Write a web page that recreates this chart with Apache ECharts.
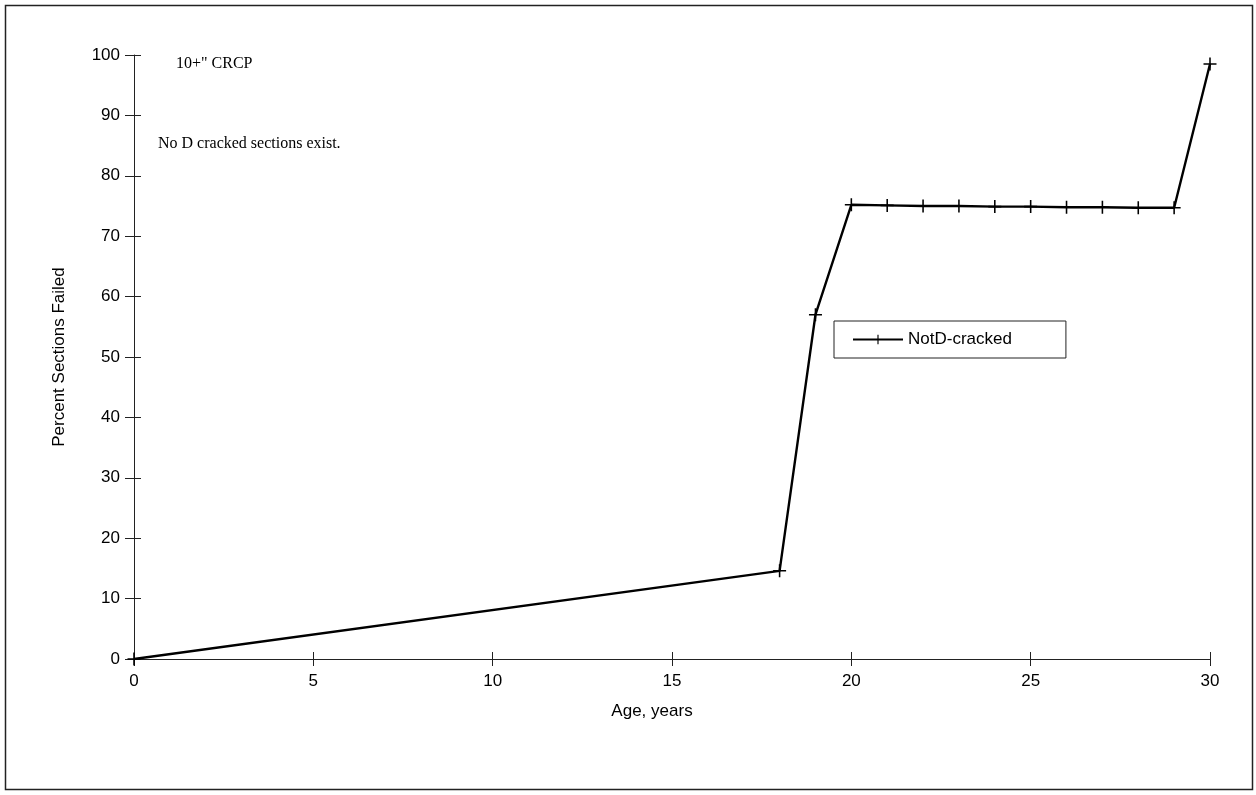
<!DOCTYPE html>
<html>
<head>
<meta charset="utf-8">
<script src="https://cdn.jsdelivr.net/npm/echarts@6/dist/echarts.min.js"></script>
<style>
  html, body { margin: 0; padding: 0; background: #fff; }
  #chart { width: 1256px; height: 795px; }
</style>
</head>
<body>
<div id="chart"></div>
<script>
// age (years) and percent of sections failed
const ages = [0, 18, 19, 20, 21, 22, 23, 24, 25, 26, 27, 28, 29, 30]
const notDCracked = [0, 14.6, 57, 75.2, 75.1, 75, 75, 74.9, 74.9, 74.8, 74.8, 74.7, 74.7, 98.5]
const yTicks = [0, 10, 20, 30, 40, 50, 60, 70, 80, 90, 100]
const xTicks = [0, 5, 10, 15, 20, 25, 30]

const plusSymbol = 'path://M4.4,0H5.6V4.4H10V5.6H5.6V10H4.4V5.6H0V4.4H4.4Z'
const labelFont = 'Liberation Sans, Arial, sans-serif'
const serifFont = 'Liberation Serif, Times New Roman, serif'

const chart = echarts.init(document.getElementById('chart'))

const tickAxis = (extra) => Object.assign({
  type: 'value',
  axisLine: { show: false },
  axisTick: { show: true, inside: true, length: 7, lineStyle: { color: '#222' } },
  axisLabel: { show: false },
  splitLine: { show: false }
}, extra)

chart.setOption({
  animation: false,
  backgroundColor: '#fff',
  grid: { left: 134, right: 46, top: 55, bottom: 136, containLabel: false },
  graphic: [
    {
      type: 'rect',
      shape: { x: 5.5, y: 5.5, width: 1247, height: 784 },
      style: { fill: 'none', stroke: '#222', lineWidth: 1.5 },
      silent: true
    },
    {
      type: 'text', left: 176, top: 56,
      style: { text: '10+" CRCP', font: '16px ' + serifFont, fill: '#000' }
    },
    {
      type: 'text', left: 158, top: 136,
      style: { text: 'No D cracked sections exist.', font: '16px ' + serifFont, fill: '#000' }
    }
  ],
  legend: {
    left: 834,
    top: 321,
    padding: [10, 54, 10, 18],
    itemWidth: 50,
    itemHeight: 12,
    itemGap: 4,
    borderColor: '#222',
    borderWidth: 1,
    backgroundColor: '#fff',
    textStyle: { fontFamily: labelFont, fontSize: 17, color: '#000' },
    data: ['NotD-cracked']
  },
  xAxis: [
    {
      type: 'value',
      min: 0,
      max: 30,
      interval: 5,
      name: 'Age, years',
      nameLocation: 'middle',
      nameGap: 44,
      nameTextStyle: { fontFamily: labelFont, fontSize: 17, color: '#000', padding: [0, 40, 0, 0] },
      axisLine: { lineStyle: { color: '#222', width: 1.2 } },
      axisTick: { show: true, length: 7, lineStyle: { color: '#222' } },
      axisLabel: { fontFamily: labelFont, fontSize: 17, color: '#000', margin: 14 },
      splitLine: { show: false }
    },
    tickAxis({ min: 0, max: 30, interval: 5, position: 'bottom' })
  ],
  yAxis: [
    {
      type: 'value',
      min: 0,
      max: 100,
      interval: 10,
      name: 'Percent Sections Failed',
      nameLocation: 'middle',
      nameGap: 66,
      nameRotate: 90,
      nameTextStyle: { fontFamily: labelFont, fontSize: 17, color: '#000' },
      axisLine: { show: true, lineStyle: { color: '#222', width: 1 } },
      axisTick: { show: true, length: 9, lineStyle: { color: '#222' } },
      axisLabel: { fontFamily: labelFont, fontSize: 17, color: '#000', margin: 14 },
      splitLine: { show: false }
    },
    tickAxis({ min: 0, max: 100, interval: 10, position: 'left' })
  ],
  series: [
    {
      name: 'NotD-cracked',
      type: 'line',
      data: ages.map((a, i) => [a, notDCracked[i]]),
      symbol: plusSymbol,
      symbolSize: 13,
      showAllSymbol: true,
      lineStyle: { color: '#000', width: 2.4 },
      itemStyle: { color: '#000' }
    }
  ]
})
</script>
</body>
</html>
